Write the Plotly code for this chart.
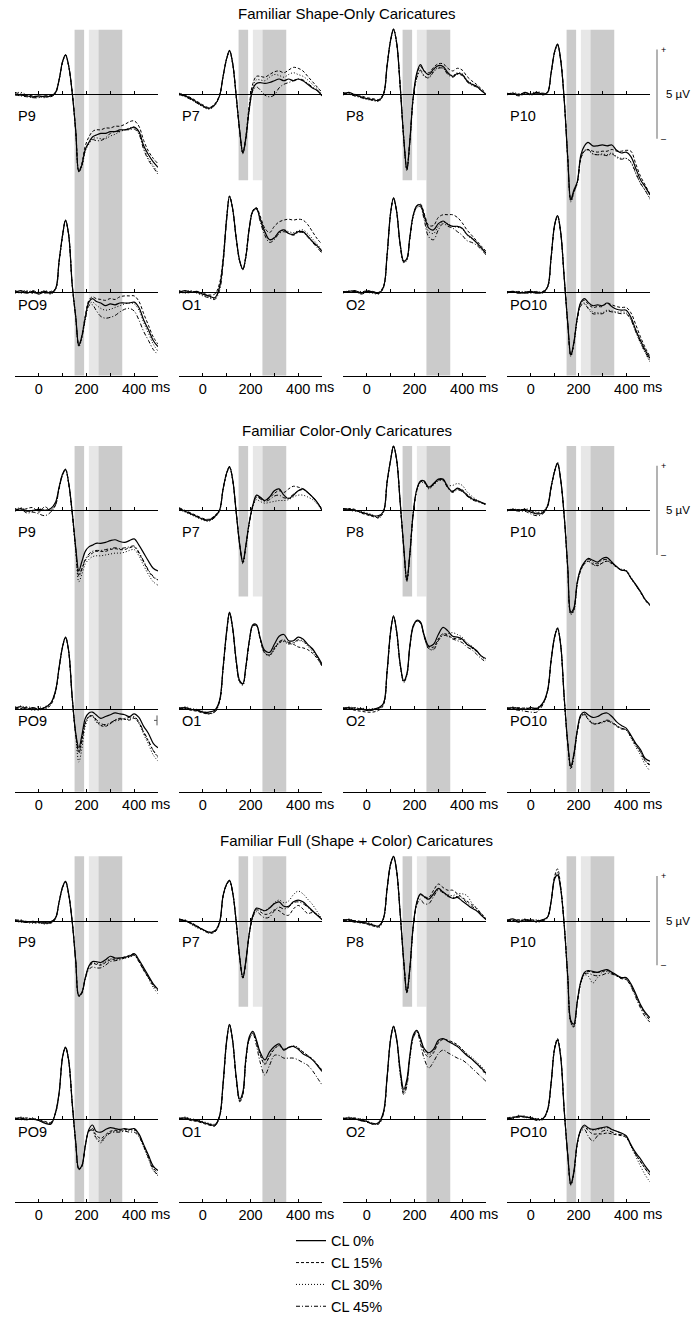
import plotly.graph_objects as go

W, H = 691, 1323

# ---------------- data (µV) ----------------
T_MS = [-100, -75, -50, -25, 0, 25, 50, 70, 85, 100, 112, 125, 140, 155, 168, 180, 195,
        210, 225, 240, 260, 280, 300, 320, 340, 360, 380, 400, 420, 440, 460, 480, 500]

CONDITIONS = ["CL 0%", "CL 15%", "CL 30%", "CL 45%"]

# Section 1: Familiar Shape-Only Caricatures  (each: CL0, CL15, CL30, CL45)
shape_P9 = [
    [0.0, -0.05, -0.1, -0.15, -0.1, -0.15, -0.1, 0.1, 0.8, 1.85, 2.2, 1.6, 0.1, -2.1, -4.35, -4.0, -3.1, -2.7, -2.4, -2.3, -2.2, -2.2, -2.1, -2.1, -2.0, -2.0, -1.95, -1.85, -2.1, -2.9, -3.4, -3.8, -4.1],
    [0.1, 0.0, -0.05, -0.1, -0.15, -0.1, -0.05, 0.1, 0.8, 1.8, 2.2, 1.6, 0.1, -2.1, -4.3, -3.9, -2.9, -2.4, -2.1, -2.0, -2.0, -1.9, -1.9, -1.8, -1.8, -1.7, -1.55, -1.5, -1.8, -2.6, -3.2, -3.6, -3.9],
    [0.05, 0.1, -0.05, -0.2, -0.15, -0.2, -0.1, 0.05, 0.75, 1.8, 2.15, 1.55, 0.05, -2.15, -4.35, -4.1, -3.2, -2.8, -2.5, -2.45, -2.5, -2.5, -2.35, -2.25, -2.1, -2.0, -1.9, -1.85, -2.15, -3.0, -3.6, -4.0, -4.4],
    [-0.05, -0.1, -0.15, -0.2, -0.2, -0.1, -0.15, 0.05, 0.8, 1.85, 2.2, 1.6, 0.1, -2.1, -4.3, -4.0, -3.1, -2.75, -2.55, -2.6, -2.6, -2.45, -2.2, -2.1, -2.1, -2.0, -2.0, -1.95, -2.25, -3.1, -3.7, -4.1, -4.5],
]
shape_P7 = [
    [0.0, -0.1, -0.25, -0.45, -0.65, -0.8, -0.6, -0.1, 1.0, 2.0, 2.45, 1.75, -0.1, -2.1, -3.3, -2.5, -0.8, 0.3, 0.6, 0.65, 0.6, 0.65, 0.75, 0.85, 0.75, 0.85, 0.75, 0.85, 0.75, 0.55, 0.35, 0.2, -0.1],
    [0.05, -0.05, -0.2, -0.4, -0.6, -0.75, -0.55, -0.05, 1.0, 2.0, 2.4, 1.7, -0.1, -2.1, -3.25, -2.4, -0.6, 0.6, 1.0, 1.0, 0.95, 1.1, 1.25, 1.3, 1.2, 1.35, 1.5, 1.45, 1.3, 1.0, 0.7, 0.4, 0.1],
    [-0.05, -0.1, -0.3, -0.5, -0.7, -0.85, -0.65, -0.1, 0.95, 1.95, 2.4, 1.7, -0.15, -2.15, -3.35, -2.55, -0.75, 0.45, 0.8, 0.8, 0.75, 0.95, 1.1, 1.05, 0.95, 1.1, 1.2, 1.1, 1.0, 0.8, 0.55, 0.3, 0.0],
    [0.0, -0.15, -0.3, -0.5, -0.7, -0.8, -0.6, -0.1, 1.0, 2.0, 2.45, 1.75, -0.1, -2.1, -3.3, -2.6, -0.9, 0.2, 0.4, 0.25, -0.05, -0.15, -0.05, 0.35, 0.55, 0.65, 0.75, 0.85, 0.8, 0.6, 0.4, 0.2, -0.05],
]
shape_P8 = [
    [0.0, 0.1, -0.05, -0.15, -0.25, -0.3, -0.35, 0.0, 1.6, 3.05, 3.65, 2.9, 0.45, -2.5, -4.2, -2.7, -0.1, 1.2, 1.65, 1.3, 1.1, 1.4, 1.6, 1.55, 1.2, 1.0, 1.15, 1.1, 0.75, 0.55, 0.45, 0.2, 0.0],
    [0.1, 0.0, -0.1, -0.1, -0.2, -0.25, -0.3, 0.05, 1.6, 3.0, 3.6, 2.85, 0.4, -2.5, -4.25, -2.75, -0.15, 1.1, 1.55, 1.3, 1.2, 1.5, 1.7, 1.7, 1.45, 1.3, 1.45, 1.35, 1.0, 0.75, 0.55, 0.3, 0.05],
    [-0.05, 0.05, 0.0, -0.2, -0.3, -0.35, -0.4, -0.05, 1.55, 3.0, 3.6, 2.85, 0.4, -2.55, -4.3, -2.8, -0.2, 0.9, 1.3, 1.0, 0.95, 1.3, 1.5, 1.45, 1.15, 1.05, 1.2, 1.15, 0.8, 0.6, 0.45, 0.2, -0.05],
    [0.05, 0.0, -0.1, -0.2, -0.25, -0.35, -0.35, 0.0, 1.6, 3.05, 3.65, 2.9, 0.45, -2.5, -4.2, -2.7, -0.15, 0.95, 1.35, 1.05, 0.9, 1.25, 1.45, 1.45, 1.1, 0.95, 1.1, 1.05, 0.7, 0.5, 0.4, 0.2, 0.0],
]
shape_P10 = [
    [0.0, 0.05, -0.05, 0.1, 0.0, 0.1, 0.0, 0.1, 1.2, 2.4, 2.8, 1.95, -0.3, -3.6, -5.9, -5.4, -4.9, -3.4, -2.9, -2.7, -2.9, -2.9, -2.85, -2.9, -2.85, -3.15, -3.3, -3.25, -3.5, -4.15, -4.8, -5.2, -5.65],
    [0.05, 0.0, 0.0, 0.05, -0.05, 0.05, 0.05, 0.1, 1.15, 2.35, 2.75, 1.9, -0.3, -3.6, -5.95, -5.5, -4.95, -3.6, -3.2, -3.1, -3.2, -3.25, -3.2, -3.2, -3.1, -3.2, -3.2, -3.15, -3.2, -3.9, -4.6, -5.1, -5.6],
    [-0.05, 0.1, 0.0, 0.05, 0.05, 0.15, 0.05, 0.05, 1.15, 2.35, 2.75, 1.9, -0.35, -3.65, -6.05, -5.55, -5.0, -3.6, -3.2, -3.15, -3.35, -3.4, -3.35, -3.4, -3.3, -3.5, -3.6, -3.6, -3.85, -4.45, -5.0, -5.4, -5.85],
    [0.0, 0.0, -0.1, 0.0, 0.0, 0.05, -0.05, 0.1, 1.2, 2.4, 2.8, 1.95, -0.3, -3.6, -6.0, -5.5, -4.95, -3.55, -3.15, -3.1, -3.35, -3.4, -3.4, -3.45, -3.35, -3.55, -3.65, -3.6, -3.8, -4.4, -5.0, -5.4, -5.9],
]
shape_PO9 = [
    [0.0, 0.1, -0.05, 0.05, -0.1, 0.05, -0.05, 0.2, 1.75, 3.25, 4.05, 3.25, 0.45, -1.4, -2.95, -2.5, -1.4, -0.55, -0.35, -0.5, -0.6, -0.75, -0.65, -0.7, -0.6, -0.6, -0.6, -0.55, -0.85, -1.55, -2.1, -2.7, -3.05],
    [0.1, 0.0, 0.05, -0.05, 0.0, -0.05, 0.05, 0.2, 1.7, 3.2, 4.0, 3.2, 0.4, -1.45, -3.0, -2.45, -1.3, -0.45, -0.25, -0.35, -0.4, -0.45, -0.35, -0.4, -0.25, -0.2, -0.2, -0.2, -0.5, -1.2, -1.85, -2.5, -2.9],
    [-0.05, 0.05, 0.1, -0.05, 0.05, 0.0, -0.1, 0.15, 1.7, 3.2, 4.05, 3.25, 0.4, -1.45, -3.05, -2.6, -1.5, -0.7, -0.55, -0.7, -0.9, -1.0, -0.95, -0.85, -0.75, -0.65, -0.6, -0.65, -1.0, -1.7, -2.3, -2.9, -3.3],
    [0.05, -0.05, 0.0, 0.1, -0.05, 0.1, 0.0, 0.2, 1.75, 3.25, 4.05, 3.25, 0.45, -1.4, -3.0, -2.55, -1.5, -0.75, -0.7, -1.0, -1.35, -1.45, -1.4, -1.3, -1.1, -0.95, -0.9, -1.05, -1.55, -2.2, -2.7, -3.2, -3.5],
]
shape_O1 = [
    [0.0, 0.1, 0.0, 0.05, -0.1, -0.2, -0.3, 0.3, 1.75, 4.15, 5.4, 4.7, 3.05, 1.75, 1.3, 1.95, 3.6, 4.55, 4.7, 4.15, 3.4, 2.95, 3.05, 3.4, 3.5, 3.3, 3.25, 3.4, 3.4, 3.15, 2.85, 2.6, 2.3],
    [0.1, 0.0, 0.05, 0.0, -0.05, -0.15, -0.1, 0.5, 1.9, 4.2, 5.4, 4.65, 3.0, 1.7, 1.3, 2.0, 3.65, 4.6, 4.75, 4.3, 3.6, 3.35, 3.7, 3.95, 4.05, 4.1, 4.05, 4.1, 4.05, 3.8, 3.4, 3.0, 2.7],
    [-0.05, 0.05, 0.1, -0.05, -0.15, -0.25, -0.35, 0.25, 1.7, 4.1, 5.35, 4.65, 3.0, 1.7, 1.25, 1.9, 3.55, 4.5, 4.7, 4.1, 3.35, 2.95, 3.1, 3.35, 3.5, 3.4, 3.35, 3.45, 3.5, 3.3, 3.0, 2.7, 2.35],
    [0.05, -0.05, 0.0, 0.0, -0.2, -0.3, -0.4, 0.1, 1.6, 4.05, 5.35, 4.7, 3.05, 1.75, 1.3, 1.95, 3.6, 4.55, 4.65, 4.0, 3.2, 2.8, 2.95, 3.3, 3.4, 3.3, 3.2, 3.35, 3.35, 3.1, 2.8, 2.5, 2.2],
]
shape_O2 = [
    [0.0, 0.05, 0.1, -0.05, 0.05, 0.0, -0.05, 0.3, 2.1, 4.5, 5.3, 4.55, 2.7, 1.75, 1.9, 3.05, 4.35, 4.85, 4.9, 4.35, 3.6, 3.5, 3.85, 4.0, 3.8, 3.7, 3.7, 3.6, 3.25, 3.05, 2.8, 2.5, 2.2],
    [0.05, 0.0, 0.05, 0.0, 0.1, 0.05, 0.0, 0.35, 2.1, 4.45, 5.25, 4.5, 2.65, 1.7, 1.85, 3.0, 4.3, 4.85, 4.95, 4.45, 3.75, 3.75, 4.2, 4.35, 4.35, 4.35, 4.2, 3.9, 3.5, 3.2, 2.9, 2.6, 2.3],
    [-0.05, 0.1, 0.0, 0.05, 0.0, -0.05, -0.1, 0.25, 2.05, 4.45, 5.3, 4.5, 2.6, 1.65, 1.8, 2.95, 4.25, 4.75, 4.8, 4.2, 3.4, 3.3, 3.7, 3.95, 3.85, 3.7, 3.65, 3.55, 3.2, 3.0, 2.75, 2.45, 2.15],
    [0.05, 0.0, 0.05, -0.1, 0.0, 0.05, -0.05, 0.3, 2.1, 4.5, 5.3, 4.55, 2.65, 1.7, 1.85, 3.0, 4.3, 4.8, 4.8, 4.1, 3.1, 2.95, 3.5, 3.85, 3.7, 3.6, 3.4, 3.2, 2.9, 2.8, 2.65, 2.4, 2.1],
]
shape_PO10 = [
    [0.0, 0.05, -0.05, 0.0, 0.05, -0.05, 0.0, 0.3, 1.95, 3.8, 4.3, 3.4, 0.85, -1.75, -3.5, -2.85, -1.4, -0.55, -0.35, -0.55, -0.75, -0.7, -0.75, -0.6, -0.8, -0.95, -1.0, -1.0, -1.4, -2.1, -2.7, -3.25, -3.7],
    [0.05, 0.0, 0.0, -0.05, 0.0, 0.0, 0.05, 0.3, 1.9, 3.75, 4.25, 3.35, 0.8, -1.8, -3.55, -2.9, -1.45, -0.6, -0.45, -0.65, -0.85, -0.8, -0.8, -0.6, -0.7, -0.8, -0.85, -0.85, -1.15, -1.8, -2.5, -3.1, -3.6],
    [-0.05, 0.05, 0.0, 0.05, -0.05, 0.0, -0.05, 0.25, 1.9, 3.8, 4.3, 3.35, 0.8, -1.8, -3.6, -2.95, -1.5, -0.7, -0.6, -0.85, -1.1, -1.15, -1.15, -1.0, -1.05, -1.1, -1.1, -1.15, -1.5, -2.2, -2.85, -3.4, -3.9],
    [0.0, 0.0, 0.05, -0.05, 0.0, 0.05, 0.0, 0.3, 1.95, 3.8, 4.3, 3.4, 0.85, -1.75, -3.55, -2.9, -1.5, -0.75, -0.65, -0.9, -1.2, -1.2, -1.2, -1.05, -1.1, -1.15, -1.2, -1.2, -1.55, -2.2, -2.8, -3.35, -3.85],
]

# Section 2: Familiar Color-Only Caricatures
color_P9 = [
    [0.0, 0.1, -0.05, 0.0, 0.05, 0.0, 0.1, 0.45, 1.3, 2.05, 2.3, 1.55, -0.1, -2.1, -3.4, -2.9, -2.3, -2.05, -1.95, -1.85, -1.85, -1.8, -1.7, -1.65, -1.75, -1.8, -1.7, -1.6, -1.95, -2.4, -2.85, -3.25, -3.4],
    [0.1, 0.0, 0.1, 0.15, -0.1, 0.2, 0.0, 0.3, 1.2, 2.0, 2.25, 1.5, -0.15, -2.2, -3.6, -3.3, -2.8, -2.55, -2.4, -2.3, -2.3, -2.3, -2.2, -2.15, -2.2, -2.2, -2.1, -2.05, -2.4, -2.9, -3.4, -3.75, -3.9],
    [0.05, 0.15, 0.0, -0.05, 0.1, 0.0, 0.05, 0.35, 1.25, 2.0, 2.3, 1.5, -0.2, -2.3, -4.0, -3.6, -3.0, -2.75, -2.6, -2.55, -2.55, -2.5, -2.45, -2.4, -2.4, -2.35, -2.25, -2.2, -2.55, -3.1, -3.6, -4.0, -4.2],
    [-0.05, 0.05, -0.15, -0.1, -0.2, -0.3, -0.1, 0.3, 1.25, 2.05, 2.3, 1.55, -0.1, -2.2, -3.7, -3.3, -2.75, -2.45, -2.3, -2.25, -2.25, -2.2, -2.15, -2.1, -2.15, -2.1, -2.05, -2.0, -2.35, -2.85, -3.35, -3.7, -3.9],
]
color_P7 = [
    [0.1, -0.05, -0.2, -0.35, -0.5, -0.55, -0.35, 0.0, 1.2, 2.1, 2.45, 1.75, -0.1, -1.95, -2.9, -2.0, -0.65, 0.3, 0.85, 0.75, 0.55, 0.75, 1.1, 1.2, 0.85, 0.65, 0.85, 1.1, 1.2, 1.0, 0.75, 0.45, 0.0],
    [0.15, 0.0, -0.15, -0.3, -0.45, -0.5, -0.3, 0.05, 1.2, 2.05, 2.4, 1.7, -0.1, -1.95, -2.9, -2.05, -0.7, 0.25, 0.75, 0.7, 0.55, 0.7, 0.95, 1.1, 1.0, 1.2, 1.35, 1.3, 1.2, 1.0, 0.75, 0.45, 0.05],
    [0.05, -0.1, -0.25, -0.4, -0.55, -0.6, -0.4, -0.05, 1.15, 2.05, 2.4, 1.7, -0.15, -2.0, -3.0, -2.1, -0.75, 0.2, 0.6, 0.5, 0.4, 0.45, 0.5, 0.55, 0.55, 0.6, 0.75, 0.85, 0.85, 0.75, 0.6, 0.35, 0.0],
    [0.1, -0.05, -0.2, -0.35, -0.5, -0.6, -0.4, 0.0, 1.2, 2.1, 2.45, 1.75, -0.1, -1.95, -2.95, -2.05, -0.7, 0.25, 0.75, 0.65, 0.5, 0.6, 0.8, 0.85, 0.7, 0.7, 0.9, 1.1, 1.15, 1.0, 0.75, 0.45, 0.05],
]
color_P8 = [
    [0.1, 0.05, 0.0, -0.1, -0.2, -0.3, -0.3, -0.05, 1.6, 2.85, 3.6, 2.85, 0.45, -2.1, -3.9, -2.5, -0.1, 1.2, 1.65, 1.65, 1.3, 1.5, 1.75, 1.75, 1.3, 1.05, 1.25, 1.1, 0.85, 0.65, 0.55, 0.45, 0.35],
    [0.0, 0.1, 0.05, -0.15, -0.25, -0.35, -0.4, -0.1, 1.55, 2.8, 3.55, 2.8, 0.4, -2.15, -3.95, -2.55, -0.15, 1.15, 1.6, 1.6, 1.25, 1.45, 1.7, 1.7, 1.25, 1.1, 1.2, 1.15, 0.9, 0.7, 0.55, 0.45, 0.3],
    [0.05, 0.0, -0.05, -0.05, -0.15, -0.25, -0.45, -0.05, 1.55, 2.85, 3.6, 2.8, 0.4, -2.15, -4.0, -2.6, -0.15, 1.1, 1.55, 1.55, 1.2, 1.4, 1.65, 1.65, 1.4, 1.4, 1.5, 1.4, 1.05, 0.8, 0.6, 0.45, 0.3],
    [0.1, 0.05, 0.0, -0.1, -0.2, -0.3, -0.35, -0.05, 1.6, 2.85, 3.6, 2.85, 0.45, -2.1, -3.9, -2.5, -0.1, 1.15, 1.6, 1.6, 1.25, 1.45, 1.7, 1.7, 1.25, 1.0, 1.15, 1.05, 0.8, 0.6, 0.5, 0.4, 0.35],
]
color_P10 = [
    [0.0, 0.05, 0.0, 0.05, -0.1, -0.2, -0.15, 0.25, 1.3, 2.2, 2.65, 1.75, -0.3, -3.25, -5.7, -5.5, -4.0, -3.25, -2.9, -2.7, -2.8, -2.9, -2.7, -2.65, -2.9, -3.15, -3.35, -3.4, -3.8, -4.15, -4.55, -5.0, -5.3],
    [0.05, 0.0, 0.05, 0.0, -0.05, -0.15, -0.1, 0.2, 1.25, 2.2, 2.6, 1.7, -0.35, -3.3, -5.8, -5.6, -4.1, -3.35, -3.0, -2.85, -3.0, -3.1, -2.95, -2.85, -3.0, -3.2, -3.35, -3.4, -3.8, -4.2, -4.6, -5.05, -5.35],
    [-0.05, 0.1, 0.0, 0.1, 0.0, -0.1, -0.05, 0.3, 1.35, 2.25, 2.7, 1.75, -0.3, -3.3, -5.85, -5.65, -4.15, -3.35, -3.0, -2.85, -3.05, -3.1, -2.95, -2.85, -2.95, -3.2, -3.3, -3.35, -3.75, -4.15, -4.55, -5.0, -5.35],
    [0.0, 0.0, -0.05, -0.05, -0.2, -0.3, -0.2, 0.2, 1.25, 2.2, 2.6, 1.75, -0.3, -3.25, -5.75, -5.55, -4.05, -3.3, -2.95, -2.75, -2.9, -3.0, -2.8, -2.75, -2.95, -3.2, -3.35, -3.4, -3.8, -4.2, -4.6, -5.0, -5.3],
]
color_PO9 = [
    [0.0, 0.1, -0.05, 0.05, -0.05, 0.05, 0.3, 1.0, 2.3, 3.5, 4.0, 3.25, 0.65, -1.4, -2.2, -1.55, -0.55, -0.25, -0.2, -0.35, -0.55, -0.45, -0.35, -0.25, -0.3, -0.35, -0.45, -0.3, -0.5, -1.0, -1.4, -1.95, -2.2],
    [0.1, 0.0, 0.05, -0.1, 0.0, -0.05, 0.2, 0.9, 2.25, 3.45, 3.95, 3.2, 0.6, -1.45, -2.4, -1.8, -0.8, -0.45, -0.4, -0.65, -0.95, -1.0, -0.85, -0.65, -0.55, -0.6, -0.65, -0.55, -0.8, -1.35, -1.85, -2.35, -2.7],
    [-0.05, 0.15, 0.0, 0.0, 0.1, 0.0, 0.25, 0.95, 2.25, 3.5, 4.0, 3.2, 0.55, -1.55, -3.0, -2.3, -1.0, -0.5, -0.45, -0.75, -0.95, -0.95, -0.85, -0.7, -0.65, -0.6, -0.6, -0.5, -0.85, -1.45, -2.0, -2.6, -2.95],
    [0.05, -0.05, 0.1, 0.0, -0.1, 0.1, 0.3, 1.0, 2.3, 3.5, 4.0, 3.25, 0.6, -1.45, -2.5, -1.9, -0.8, -0.45, -0.4, -0.6, -0.85, -0.9, -0.8, -0.65, -0.6, -0.55, -0.5, -0.45, -0.75, -1.3, -1.8, -2.35, -2.75],
]
color_O1 = [
    [0.0, 0.05, -0.05, -0.1, -0.2, -0.2, -0.1, 0.45, 2.3, 4.35, 5.4, 4.55, 2.7, 1.55, 1.4, 2.3, 3.8, 4.7, 4.7, 4.0, 3.25, 3.15, 3.6, 4.05, 4.15, 3.8, 3.8, 4.0, 3.9, 3.6, 3.35, 2.95, 2.5],
    [0.05, 0.0, -0.1, -0.15, -0.25, -0.3, -0.15, 0.4, 2.25, 4.3, 5.35, 4.5, 2.65, 1.5, 1.35, 2.25, 3.75, 4.65, 4.65, 3.9, 3.1, 3.0, 3.35, 3.7, 3.8, 3.65, 3.6, 3.45, 3.4, 3.3, 3.1, 2.8, 2.4],
    [-0.05, 0.1, 0.0, -0.05, -0.15, -0.25, -0.2, 0.35, 2.2, 4.25, 5.3, 4.45, 2.6, 1.45, 1.3, 2.2, 3.7, 4.6, 4.65, 3.95, 3.1, 2.95, 3.3, 3.65, 3.75, 3.6, 3.65, 3.8, 3.75, 3.5, 3.2, 2.85, 2.35],
    [0.0, 0.0, -0.05, -0.1, -0.2, -0.3, -0.2, 0.4, 2.25, 4.3, 5.35, 4.5, 2.65, 1.5, 1.4, 2.3, 3.8, 4.65, 4.65, 3.95, 3.15, 3.0, 3.4, 3.75, 3.85, 3.7, 3.7, 3.85, 3.8, 3.55, 3.3, 2.9, 2.4],
]
color_O2 = [
    [0.0, 0.05, -0.05, 0.0, -0.1, -0.05, 0.05, 0.3, 2.1, 4.35, 5.2, 4.35, 2.5, 1.55, 1.95, 3.45, 4.65, 4.95, 4.85, 4.15, 3.5, 3.6, 4.15, 4.55, 4.35, 4.05, 4.0, 3.9, 3.6, 3.45, 3.25, 2.95, 2.8],
    [0.05, 0.0, -0.1, -0.15, -0.2, -0.2, -0.1, 0.2, 2.0, 4.3, 5.15, 4.3, 2.45, 1.5, 1.9, 3.4, 4.6, 4.9, 4.8, 4.1, 3.45, 3.45, 3.9, 4.2, 4.1, 3.95, 3.9, 3.85, 3.6, 3.4, 3.2, 2.95, 2.75],
    [-0.05, 0.1, 0.0, 0.05, -0.05, 0.0, 0.0, 0.25, 2.05, 4.3, 5.2, 4.3, 2.4, 1.45, 1.85, 3.35, 4.55, 4.9, 4.8, 4.05, 3.35, 3.35, 3.85, 4.15, 4.2, 4.25, 4.15, 4.0, 3.7, 3.5, 3.25, 2.9, 2.7],
    [0.0, 0.0, 0.05, -0.05, -0.1, -0.1, 0.0, 0.3, 2.1, 4.3, 5.15, 4.3, 2.45, 1.5, 1.9, 3.4, 4.6, 4.9, 4.8, 4.05, 3.35, 3.3, 3.8, 4.1, 4.05, 3.9, 3.8, 3.7, 3.45, 3.3, 3.05, 2.8, 2.6],
]
color_PO10 = [
    [0.0, 0.05, 0.0, -0.05, 0.05, 0.0, 0.3, 1.0, 2.7, 4.05, 4.5, 3.6, 0.65, -1.95, -3.25, -2.6, -1.2, -0.35, -0.2, -0.35, -0.5, -0.45, -0.3, -0.25, -0.45, -0.75, -0.95, -1.1, -1.5, -1.95, -2.3, -2.8, -2.95],
    [0.05, 0.0, 0.05, 0.0, -0.05, -0.05, 0.25, 0.95, 2.65, 4.0, 4.45, 3.55, 0.6, -2.0, -3.35, -2.7, -1.3, -0.45, -0.35, -0.6, -0.85, -0.85, -0.75, -0.7, -0.8, -1.0, -1.15, -1.2, -1.6, -2.05, -2.45, -2.95, -3.2],
    [-0.05, 0.1, -0.05, 0.05, 0.0, 0.05, 0.3, 1.0, 2.7, 4.05, 4.55, 3.6, 0.6, -2.0, -3.4, -2.75, -1.3, -0.45, -0.3, -0.55, -0.8, -0.85, -0.8, -0.7, -0.8, -0.95, -1.1, -1.2, -1.65, -2.15, -2.6, -3.15, -3.5],
    [0.0, -0.05, -0.1, -0.15, -0.2, -0.2, 0.2, 0.95, 2.65, 4.0, 4.5, 3.55, 0.6, -1.95, -3.3, -2.65, -1.25, -0.4, -0.3, -0.6, -0.85, -0.85, -0.75, -0.65, -0.75, -0.95, -1.1, -1.2, -1.55, -2.0, -2.4, -2.9, -3.15],
]

# Section 3: Familiar Full (Shape + Color) Caricatures
full_P9 = [
    [0.0, -0.05, -0.1, -0.05, -0.1, -0.15, -0.1, 0.15, 1.05, 1.9, 2.2, 1.5, -0.05, -2.3, -4.2, -4.05, -3.2, -2.55, -2.3, -2.3, -2.35, -2.2, -2.0, -2.1, -2.1, -2.05, -2.0, -1.85, -2.2, -2.65, -3.1, -3.55, -3.85],
    [0.05, 0.0, -0.05, -0.1, -0.05, -0.1, -0.15, 0.1, 1.0, 1.85, 2.15, 1.45, -0.1, -2.3, -4.25, -4.1, -3.25, -2.6, -2.4, -2.45, -2.5, -2.35, -2.2, -2.15, -2.1, -2.05, -1.95, -1.9, -2.3, -2.8, -3.2, -3.65, -3.95],
    [-0.05, 0.05, -0.1, -0.15, -0.1, -0.2, -0.1, 0.15, 1.05, 1.9, 2.2, 1.5, -0.05, -2.3, -4.25, -4.1, -3.2, -2.6, -2.4, -2.4, -2.45, -2.3, -2.15, -2.2, -2.15, -2.1, -2.05, -1.95, -2.3, -2.75, -3.25, -3.75, -4.1],
    [0.0, -0.1, -0.05, -0.1, -0.15, -0.1, -0.05, 0.15, 1.05, 1.9, 2.2, 1.5, -0.05, -2.3, -4.2, -4.05, -3.25, -2.75, -2.6, -2.65, -2.65, -2.5, -2.3, -2.25, -2.2, -2.1, -2.05, -1.95, -2.3, -2.75, -3.2, -3.6, -3.9],
]
full_P7 = [
    [0.05, 0.0, -0.15, -0.35, -0.5, -0.65, -0.6, -0.1, 1.4, 2.05, 2.25, 1.6, -0.05, -2.1, -3.2, -2.3, -0.7, 0.3, 0.7, 0.65, 0.55, 0.7, 0.95, 1.05, 0.8, 0.8, 1.05, 1.15, 1.05, 0.8, 0.55, 0.3, 0.05],
    [0.1, 0.0, -0.1, -0.3, -0.5, -0.7, -0.65, -0.15, 1.35, 2.0, 2.2, 1.55, -0.1, -2.15, -3.2, -2.35, -0.75, 0.25, 0.6, 0.5, 0.35, 0.4, 0.6, 0.55, 0.35, 0.3, 0.65, 0.85, 0.65, 0.4, 0.45, 0.35, 0.05],
    [0.0, 0.05, -0.2, -0.4, -0.55, -0.7, -0.6, -0.1, 1.35, 2.0, 2.2, 1.55, -0.1, -2.15, -3.25, -2.35, -0.75, 0.25, 0.65, 0.6, 0.55, 0.75, 1.0, 1.15, 1.0, 1.1, 1.45, 1.65, 1.5, 1.2, 0.9, 0.5, 0.1],
    [0.05, -0.05, -0.15, -0.3, -0.5, -0.65, -0.55, -0.1, 1.4, 2.05, 2.25, 1.6, -0.05, -2.1, -3.2, -2.35, -0.75, 0.2, 0.5, 0.35, 0.15, 0.2, 0.55, 0.75, 0.65, 0.75, 1.0, 1.05, 0.95, 0.75, 0.5, 0.3, 0.05],
]
full_P8 = [
    [0.0, 0.05, -0.05, -0.1, -0.15, -0.25, -0.3, 0.15, 1.8, 3.2, 3.6, 2.8, 0.4, -2.3, -4.0, -2.75, -0.25, 1.05, 1.5, 1.35, 1.2, 1.5, 1.8, 1.6, 1.4, 1.25, 1.3, 1.1, 0.9, 0.7, 0.55, 0.3, 0.05],
    [0.05, 0.0, 0.0, -0.05, -0.2, -0.3, -0.35, 0.1, 1.75, 3.15, 3.55, 2.75, 0.35, -2.35, -4.05, -2.8, -0.3, 1.0, 1.45, 1.35, 1.3, 1.7, 2.05, 1.85, 1.7, 1.7, 1.5, 1.3, 1.1, 0.9, 0.7, 0.4, 0.1],
    [-0.05, 0.1, -0.05, -0.15, -0.1, -0.2, -0.4, 0.1, 1.75, 3.15, 3.6, 2.75, 0.35, -2.35, -4.05, -2.8, -0.3, 1.0, 1.45, 1.3, 1.2, 1.5, 1.75, 1.6, 1.45, 1.4, 1.5, 1.5, 1.4, 1.0, 0.7, 0.4, 0.1],
    [0.05, 0.0, -0.1, -0.1, -0.2, -0.25, -0.3, 0.15, 1.8, 3.2, 3.6, 2.8, 0.4, -2.3, -4.0, -2.75, -0.3, 0.9, 1.2, 0.95, 0.95, 1.35, 1.7, 1.55, 1.35, 1.3, 1.35, 1.25, 1.0, 0.8, 0.6, 0.35, 0.05],
]
full_P10 = [
    [0.0, 0.1, -0.05, 0.05, 0.0, -0.05, 0.05, 0.2, 1.05, 2.35, 2.55, 1.8, -0.25, -3.2, -5.6, -5.8, -4.5, -3.4, -2.9, -2.8, -2.85, -2.9, -2.8, -2.75, -2.9, -3.05, -3.2, -3.2, -3.55, -4.1, -4.7, -5.15, -5.45],
    [0.05, 0.0, 0.05, -0.05, 0.05, 0.0, 0.0, 0.2, 1.1, 2.5, 2.9, 1.95, -0.2, -3.15, -5.7, -5.95, -4.6, -3.45, -2.95, -2.85, -2.9, -2.9, -2.85, -2.8, -2.95, -3.1, -3.25, -3.3, -3.65, -4.2, -4.8, -5.25, -5.6],
    [-0.05, 0.05, 0.0, 0.1, -0.05, 0.05, -0.05, 0.15, 1.05, 2.4, 2.7, 1.85, -0.25, -3.2, -5.75, -6.0, -4.6, -3.5, -3.05, -3.1, -3.5, -3.2, -2.9, -2.85, -2.95, -3.1, -3.2, -3.25, -3.6, -4.15, -4.75, -5.2, -5.55],
    [0.0, 0.0, -0.1, 0.0, 0.05, -0.1, 0.0, 0.2, 1.05, 2.4, 2.65, 1.85, -0.25, -3.2, -5.7, -5.9, -4.55, -3.45, -3.0, -2.95, -3.05, -3.1, -3.05, -2.95, -3.0, -3.1, -3.25, -3.3, -3.7, -4.3, -4.9, -5.4, -5.7],
]
full_PO9 = [
    [0.0, 0.05, -0.05, 0.0, -0.1, -0.25, -0.3, 0.35, 1.45, 3.5, 4.0, 3.3, 0.9, -1.35, -2.8, -2.65, -1.5, -0.6, -0.35, -0.7, -0.75, -0.6, -0.5, -0.55, -0.6, -0.55, -0.6, -0.55, -0.85, -1.45, -2.05, -2.65, -2.9],
    [0.05, 0.0, 0.05, -0.05, -0.05, -0.15, -0.2, 0.3, 1.4, 3.45, 3.95, 3.25, 0.85, -1.4, -2.85, -2.7, -1.55, -0.7, -0.55, -0.9, -1.1, -0.9, -0.7, -0.65, -0.65, -0.6, -0.6, -0.6, -0.9, -1.5, -2.1, -2.75, -3.05],
    [-0.05, 0.1, 0.0, 0.05, -0.1, -0.2, -0.25, 0.3, 1.4, 3.5, 4.0, 3.3, 0.85, -1.4, -2.85, -2.7, -1.55, -0.7, -0.6, -1.1, -1.35, -1.0, -0.75, -0.7, -0.7, -0.65, -0.65, -0.65, -0.95, -1.6, -2.25, -2.9, -3.2],
    [0.0, -0.05, -0.05, 0.0, -0.1, -0.2, -0.25, 0.35, 1.45, 3.5, 4.05, 3.3, 0.9, -1.35, -2.8, -2.65, -1.5, -0.7, -0.65, -1.05, -1.25, -1.0, -0.8, -0.75, -0.75, -0.7, -0.75, -0.75, -1.0, -1.55, -2.2, -2.85, -3.15],
]
full_O1 = [
    [0.0, 0.05, -0.05, -0.1, -0.2, -0.3, -0.35, 0.15, 2.0, 4.4, 5.3, 4.4, 2.35, 1.1, 1.5, 3.3, 4.6, 4.9, 4.4, 3.75, 3.3, 3.75, 4.05, 4.2, 3.85, 4.0, 4.05, 3.9, 3.65, 3.5, 3.3, 3.0, 2.65],
    [0.05, 0.0, -0.1, -0.15, -0.25, -0.35, -0.4, 0.1, 1.9, 4.3, 5.25, 4.35, 2.3, 1.0, 1.4, 3.2, 4.5, 4.8, 4.3, 3.6, 3.05, 3.5, 3.9, 4.1, 3.9, 4.0, 4.05, 3.95, 3.75, 3.55, 3.35, 3.05, 2.7],
    [-0.05, 0.1, 0.0, -0.05, -0.15, -0.25, -0.3, 0.1, 1.95, 4.35, 5.3, 4.4, 2.3, 1.0, 1.4, 3.25, 4.55, 4.85, 4.35, 3.65, 3.1, 3.55, 3.95, 4.1, 3.85, 4.0, 4.1, 4.0, 3.75, 3.55, 3.35, 3.05, 2.75],
    [0.0, 0.0, -0.05, -0.1, -0.2, -0.3, -0.4, 0.15, 1.95, 4.35, 5.25, 4.35, 2.25, 0.95, 1.35, 3.15, 4.45, 4.75, 4.1, 3.2, 2.45, 3.0, 3.55, 3.55, 3.4, 3.4, 3.4, 3.3, 3.15, 3.0, 2.7, 2.3, 1.9],
]
full_O2 = [
    [0.0, 0.05, 0.0, -0.1, -0.15, -0.3, -0.2, 0.4, 2.35, 4.5, 5.2, 4.5, 2.75, 1.65, 2.2, 3.5, 4.7, 4.95, 4.5, 3.95, 3.7, 3.9, 4.4, 4.5, 4.35, 4.2, 4.05, 3.8, 3.55, 3.35, 3.1, 2.85, 2.55],
    [0.05, 0.0, 0.05, -0.05, -0.2, -0.25, -0.3, 0.3, 2.25, 4.45, 5.15, 4.45, 2.65, 1.5, 2.05, 3.4, 4.6, 4.9, 4.4, 3.75, 3.45, 3.7, 4.25, 4.45, 4.4, 4.3, 4.15, 3.9, 3.6, 3.35, 3.1, 2.8, 2.45],
    [-0.05, 0.1, -0.05, 0.0, -0.1, -0.25, -0.25, 0.35, 2.3, 4.5, 5.2, 4.45, 2.6, 1.45, 2.0, 3.4, 4.6, 4.9, 4.45, 3.85, 3.6, 3.8, 4.3, 4.45, 4.35, 4.25, 4.1, 3.9, 3.65, 3.45, 3.2, 2.95, 2.65],
    [0.0, 0.0, 0.0, -0.1, -0.15, -0.3, -0.25, 0.35, 2.3, 4.45, 5.1, 4.4, 2.5, 1.35, 1.85, 3.3, 4.55, 4.85, 4.2, 3.4, 2.85, 3.2, 3.65, 3.85, 3.7, 3.55, 3.4, 3.3, 3.1, 2.85, 2.6, 2.35, 2.1],
]
full_PO10 = [
    [0.0, 0.05, 0.15, 0.1, 0.05, -0.05, 0.0, 0.5, 2.0, 3.95, 4.4, 3.5, 0.5, -2.05, -3.65, -3.0, -1.35, -0.6, -0.35, -0.5, -0.6, -0.55, -0.5, -0.45, -0.6, -0.7, -0.8, -0.95, -1.45, -1.9, -2.25, -2.65, -3.0],
    [0.05, 0.1, 0.1, 0.15, 0.0, 0.0, -0.05, 0.45, 1.95, 4.0, 4.5, 3.55, 0.5, -2.05, -3.7, -3.1, -1.4, -0.65, -0.45, -0.65, -0.85, -0.85, -0.85, -0.8, -0.85, -0.9, -0.95, -1.05, -1.5, -2.0, -2.4, -2.8, -3.15],
    [-0.05, 0.0, 0.2, 0.05, 0.1, 0.0, 0.05, 0.45, 1.95, 3.95, 4.4, 3.5, 0.45, -2.1, -3.75, -3.1, -1.4, -0.6, -0.4, -0.55, -0.65, -0.6, -0.55, -0.5, -0.6, -0.7, -0.85, -1.0, -1.55, -2.1, -2.65, -3.15, -3.55],
    [0.0, 0.05, 0.1, 0.1, 0.05, -0.1, 0.0, 0.5, 2.0, 3.95, 4.45, 3.5, 0.5, -2.05, -3.7, -3.05, -1.4, -0.7, -0.6, -0.95, -1.25, -0.95, -0.7, -0.65, -0.75, -0.85, -0.9, -1.0, -1.5, -2.0, -2.4, -2.8, -3.2],
]

SECTION_TITLES = ["Familiar Shape-Only Caricatures",
                  "Familiar Color-Only Caricatures",
                  "Familiar Full (Shape + Color) Caricatures"]
TOP_ELECTRODES = ["P9", "P7", "P8", "P10"]
BOTTOM_ELECTRODES = ["PO9", "O1", "O2", "PO10"]
SECTION_DATA = [
    ([shape_P9, shape_P7, shape_P8, shape_P10], [shape_PO9, shape_O1, shape_O2, shape_PO10]),
    ([color_P9, color_P7, color_P8, color_P10], [color_PO9, color_O1, color_O2, color_PO10]),
    ([full_P9, full_P7, full_P8, full_P10], [full_PO9, full_O1, full_O2, full_PO10]),
]
TICK_MS = [0, 100, 200, 300, 400]
TICK_TEXT = ["0", "", "200", "", "400"]
BAND_EARLY = (150, 190)
BAND_MID = (210, 250)
BAND_LATE = (250, 350)
SCALE_UV = 5

# ---------------- styling / layout geometry ----------------
FONT = "Liberation Sans, Arial, sans-serif"
DASHES = ["solid", "3px,2px", "1px,2px", "4px,2px,1px,2px"]
WIDTHS = [1.2, 1.0, 1.0, 1.0]
DARK = "#cbcbcb"
LIGHT = "#e7e7e7"
COL_X0 = [15, 179, 343, 507]
COL_W = 143
SEC_OFF = [0, 420, 834]
TITLE_X = [347, 347, 357]
PX_PER_UV = 18.0
LABEL_SIZE = 14.5
TICK_SIZE = 14.5


def fx(p):
    return p / W


def fy(p):
    return 1 - p / H


for sec in SECTION_DATA:
    for row in sec:
        for panel in row:
            for series in panel:
                assert len(series) == len(T_MS), len(series)

fig = go.Figure()
layout = {}
shapes = []
annotations = []
k = 0
extra = 24
for s in range(3):
    off = SEC_OFF[s]
    dom_top = off + 2
    dom_bot = off + 379
    span = (dom_bot - dom_top) / PX_PER_UV
    annotations.append(dict(text=SECTION_TITLES[s], xref="paper", yref="paper",
                            x=fx(TITLE_X[s]), y=fy(off + 14), xanchor="center", yanchor="middle",
                            showarrow=False, font=dict(size=15, color="black", family=FONT)))
    top_ids = []
    for r in range(2):
        base = off + (95 if r == 0 else 295)
        hi = (base - dom_top) / PX_PER_UV
        lo = hi - span
        for c in range(4):
            k += 1
            if r == 0:
                top_ids.append(k)
            dom_x = [fx(COL_X0[c]), fx(COL_X0[c] + COL_W)]
            layout[f"xaxis{k}"] = dict(domain=dom_x, range=[-100, 500], anchor="free",
                                       position=fy(base), showline=True, linecolor="black",
                                       linewidth=1, ticks="inside", ticklen=3, tickwidth=1,
                                       tickcolor="black", tickvals=TICK_MS, showticklabels=False,
                                       showgrid=False, zeroline=False, fixedrange=True)
            layout[f"yaxis{k}"] = dict(domain=[fy(dom_bot), fy(dom_top)], range=[lo, hi],
                                       visible=False, fixedrange=True, anchor=f"x{k}")
            panel = SECTION_DATA[s][r][c]
            for i in range(4):
                fig.add_trace(go.Scatter(
                    x=T_MS, y=panel[i], xaxis=f"x{k}", yaxis=f"y{k}", mode="lines",
                    line=dict(color="black", width=WIDTHS[i], dash=DASHES[i], shape="spline",
                              smoothing=1.0),
                    name=CONDITIONS[i], showlegend=(k == 1), hoverinfo="skip"))
            name = TOP_ELECTRODES[c] if r == 0 else BOTTOM_ELECTRODES[c]
            annotations.append(dict(text=name, xref="paper", yref="paper",
                                    x=fx(COL_X0[c] + 1), y=fy(off + (117 if r == 0 else 308)),
                                    xanchor="left", yanchor="middle", showarrow=False,
                                    font=dict(size=LABEL_SIZE, color="black", family=FONT)))
            if r == 1:
                extra += 1
                layout[f"xaxis{extra}"] = dict(domain=dom_x, range=[-100, 500], overlaying=f"x{k}",
                                               anchor="free", position=fy(off + 379),
                                               showline=True, linecolor="black", linewidth=1,
                                               ticks="inside", ticklen=3, tickwidth=1,
                                               tickcolor="black", tickvals=TICK_MS,
                                               ticktext=TICK_TEXT, showticklabels=True,
                                               tickfont=dict(size=TICK_SIZE, color="black", family=FONT),
                                               showgrid=False, zeroline=False, fixedrange=True)
                fig.add_trace(go.Scatter(x=[0], y=[None], xaxis=f"x{extra}", yaxis=f"y{k}",
                                         mode="lines", showlegend=False, hoverinfo="skip"))
                annotations.append(dict(text="ms", xref=f"x{k}", yref="paper", x=463,
                                        y=fy(off + 391), xanchor="left", yanchor="middle",
                                        showarrow=False,
                                        font=dict(size=TICK_SIZE, color="black", family=FONT)))
    # shaded windows
    for c in range(4):
        xr = f"x{top_ids[c]}"
        partial = c in (1, 2)
        early_bottom = off + (182 if partial else 379)
        for (a, b), col, bot in [(BAND_EARLY, DARK, early_bottom), (BAND_MID, LIGHT, early_bottom),
                                 (BAND_LATE, DARK, off + 379)]:
            shapes.append(dict(type="rect", xref=xr, yref="paper", x0=a, x1=b,
                               y0=fy(bot), y1=fy(off + 30), fillcolor=col,
                               line=dict(width=0), layer="below"))
    # scale bar
    yref = f"y{top_ids[3]}"
    shapes.append(dict(type="line", xref="paper", yref=yref, x0=fx(657), x1=fx(657),
                       y0=-SCALE_UV / 2, y1=SCALE_UV / 2, line=dict(color="#9a9a9a", width=1.5)))
    annotations.append(dict(text="+", xref="paper", yref=yref, x=fx(659), y=SCALE_UV / 2,
                            xanchor="left", yanchor="middle", showarrow=False,
                            font=dict(size=9, color="black", family=FONT)))
    annotations.append(dict(text="–", xref="paper", yref=yref, x=fx(659), y=-SCALE_UV / 2,
                            xanchor="left", yanchor="middle", showarrow=False,
                            font=dict(size=9, color="black", family=FONT)))
    annotations.append(dict(text=f"{SCALE_UV} µV", xref="paper", yref=yref, x=fx(664), y=0,
                            xanchor="left", yanchor="middle", showarrow=False,
                            font=dict(size=11.5, color="black", family=FONT)))

# small tick mark artifact at the end of PO9 (section 2)
shapes.append(dict(type="line", xref="paper", yref="paper", x0=fx(157), x1=fx(157),
                   y0=fy(722), y1=fy(732), line=dict(color="#555", width=1)))
shapes.append(dict(type="line", xref="paper", yref="paper", x0=fx(154), x1=fx(157),
                   y0=fy(727), y1=fy(727), line=dict(color="#555", width=1)))

fig.update_layout(
    width=W, height=H, autosize=False,
    margin=dict(l=0, r=0, t=0, b=0),
    paper_bgcolor="white", plot_bgcolor="rgba(0,0,0,0)",
    font=dict(family=FONT, color="black"),
    shapes=shapes, annotations=annotations,
    showlegend=True,
    legend=dict(x=fx(291), y=fy(1236), xanchor="left", yanchor="top",
                font=dict(size=14.5, color="black", family=FONT),
                bgcolor="rgba(0,0,0,0)", tracegroupgap=0),
    **layout,
)

fig.write_html("out.html")
